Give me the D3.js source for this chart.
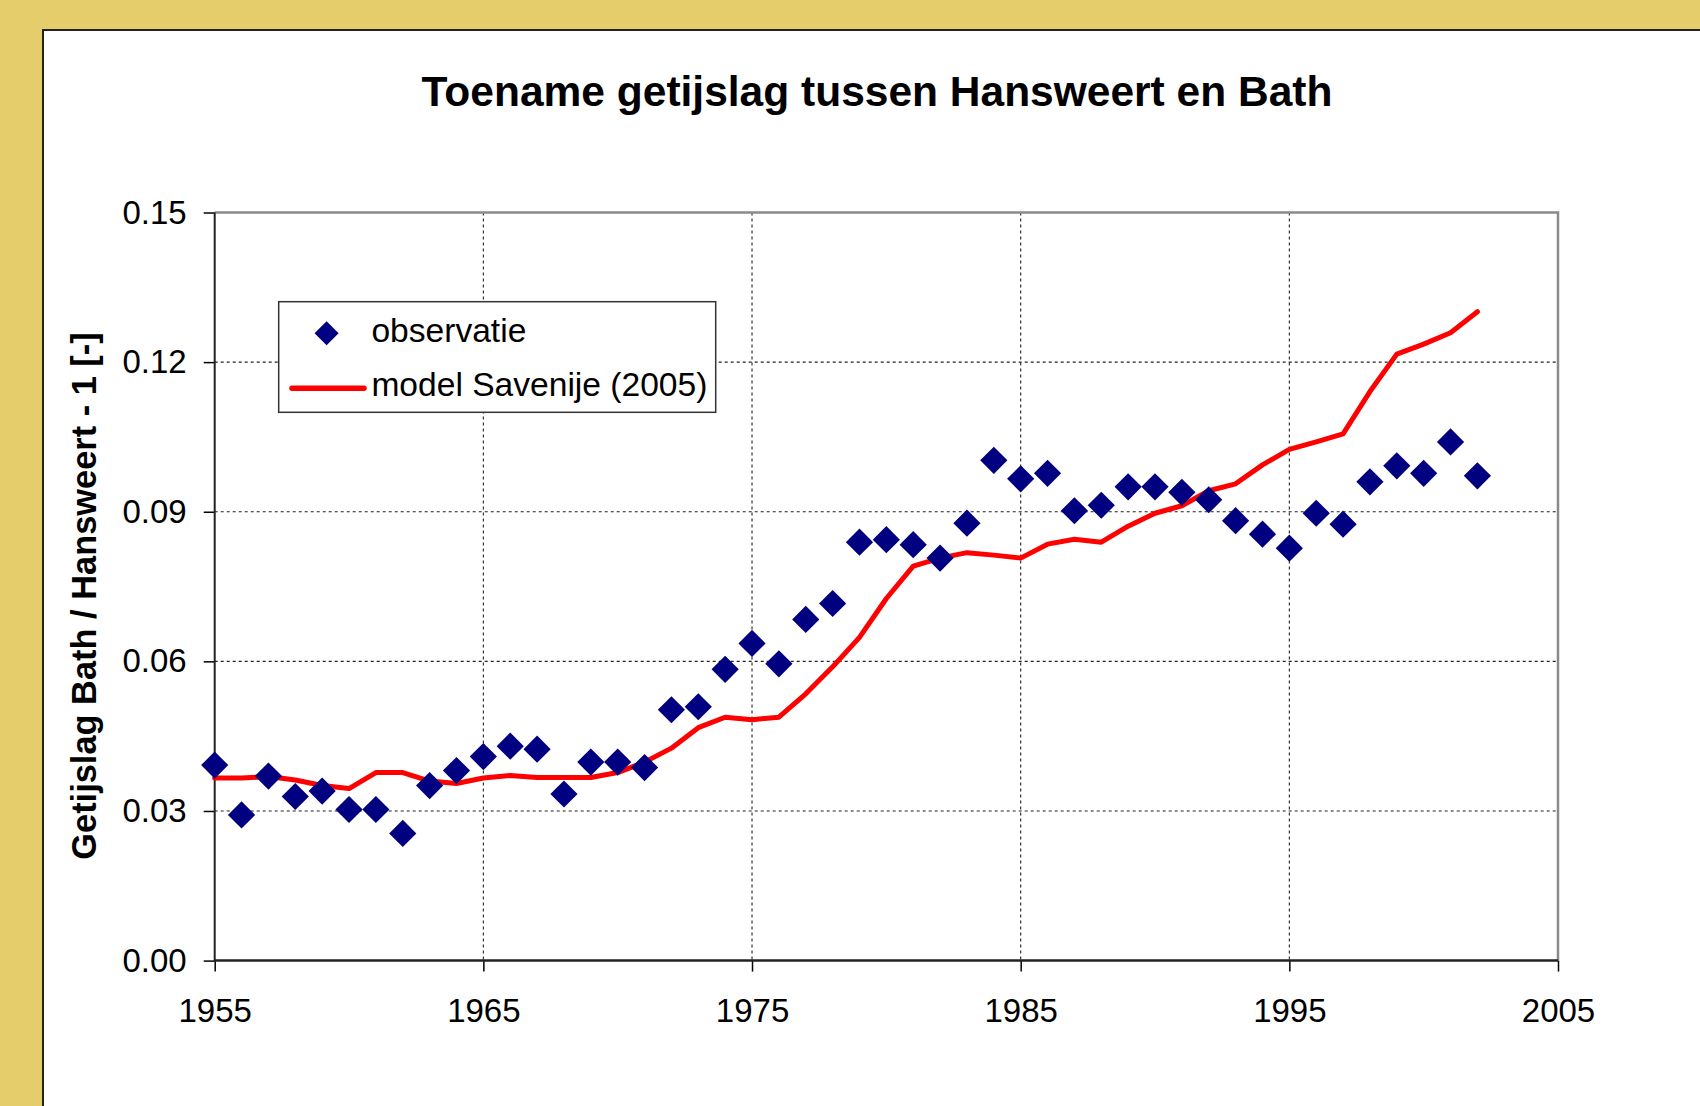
<!DOCTYPE html>
<html>
<head>
<meta charset="utf-8">
<script src="https://cdn.jsdelivr.net/npm/d3@7"></script>
<style>
  html, body { margin: 0; padding: 0; background: #e5cd6b; }
  svg { display: block; font-family: "Liberation Sans", Arial, sans-serif; }
  .tick-label { font-size: 33px; fill: #000; }
</style>
</head>
<body>
<script>
// observed tidal range increase, one value per year 1955-2002
var years = d3.range(1955, 2003);
var observatie = [
  0.0392, 0.0292, 0.0370, 0.0329, 0.0340, 0.0303, 0.0303, 0.0255, 0.0351, 0.0381,
  0.0409, 0.0430, 0.0424, 0.0334, 0.0398, 0.0398, 0.0387, 0.0503, 0.0509, 0.0584,
  0.0636, 0.0595, 0.0684, 0.0716, 0.0839, 0.0844, 0.0834, 0.0807, 0.0877, 0.1003,
  0.0966, 0.0977, 0.0902, 0.0913, 0.0950, 0.0950, 0.0939, 0.0924, 0.0882, 0.0855,
  0.0827, 0.0897, 0.0875, 0.0960, 0.0992, 0.0977, 0.1040, 0.0972
];
var model = [
  0.0366, 0.0366, 0.0369, 0.0362, 0.0351, 0.0345, 0.0377, 0.0377, 0.0360, 0.0355,
  0.0366, 0.0371, 0.0367, 0.0367, 0.0367, 0.0377, 0.0398, 0.0426, 0.0467, 0.0488,
  0.0483, 0.0488, 0.0535, 0.0589, 0.0648, 0.0726, 0.0791, 0.0807, 0.0818, 0.0813,
  0.0807, 0.0835, 0.0845, 0.0839, 0.0871, 0.0897, 0.0912, 0.0942, 0.0956, 0.0994,
  0.1025, 0.1040, 0.1056, 0.1141, 0.1216, 0.1236, 0.1259, 0.1301
];
var xTicks = [1955, 1965, 1975, 1985, 1995, 2005];
var yTicks = [0, 0.03, 0.06, 0.09, 0.12, 0.15];
var legendLabels = ["observatie", "model Savenije (2005)"];

var W = 1700, H = 1106;
var plot = {left: 214.7, right: 1558, top: 212.5, bottom: 960.6};

var svg = d3.select("body").append("svg")
    .attr("width", W)
    .attr("height", H);

// yellow background with white panel
svg.append("rect").attr("width", W).attr("height", H).attr("fill", "#e5cd6b");
svg.append("rect")
    .attr("x", 43).attr("y", 30)
    .attr("width", W).attr("height", H)
    .attr("fill", "#fff")
    .attr("stroke", "#222").attr("stroke-width", 2);

// title
svg.append("text")
    .text("Toename getijslag tussen Hansweert en Bath")
    .attr("x", 877).attr("y", 106)
    .attr("text-anchor", "middle")
    .attr("font-weight", "bold")
    .attr("font-size", 42.5)

var x = d3.scaleLinear().domain([1955, 2005]).range([plot.left, plot.right]);
var y = d3.scaleLinear().domain([0, 0.15]).range([plot.bottom, plot.top]);

// grid
var grid = svg.append("g").attr("stroke", "#222").attr("stroke-width", 1.1).attr("stroke-dasharray", "3,3");
grid.selectAll(".vg").data(xTicks.slice(1, -1)).enter().append("line")
    .attr("x1", d => x(d)).attr("x2", d => x(d))
    .attr("y1", plot.top).attr("y2", plot.bottom);
grid.selectAll(".hg").data(yTicks.slice(1, -1)).enter().append("line")
    .attr("x1", plot.left).attr("x2", plot.right)
    .attr("y1", d => y(d)).attr("y2", d => y(d));

// top + right border in grey
svg.append("path")
    .attr("d", "M" + plot.left + "," + plot.top + "H" + plot.right + "V" + plot.bottom)
    .attr("fill", "none").attr("stroke", "#8a8a8a").attr("stroke-width", 2.5);

// axes
var xAxis = d3.axisBottom(x).tickValues(xTicks).tickFormat(d3.format("d")).tickSize(11).tickPadding(21);
var xg = svg.append("g")
    .attr("transform", "translate(0," + plot.bottom + ")")
    .call(xAxis);
var yAxis = d3.axisLeft(y).tickValues(yTicks).tickFormat(d3.format(".2f")).tickSize(11).tickPadding(17);
var yg = svg.append("g")
    .attr("transform", "translate(" + plot.left + ",0)")
    .call(yAxis);
[xg, yg].forEach(function(g) {
    g.select(".domain").remove();
    g.selectAll(".tick line").attr("stroke", "#000").attr("stroke-width", 1.5);
    g.selectAll(".tick text").attr("class", "tick-label").attr("font-family", null).attr("font-size", null);
});
xg.selectAll(".tick text").attr("dy", "0.9em");
svg.append("line").attr("x1", plot.left).attr("x2", plot.left)
    .attr("y1", plot.top).attr("y2", plot.bottom + 1)
    .attr("stroke", "#222").attr("stroke-width", 2);
svg.append("line").attr("x1", plot.left).attr("x2", plot.right)
    .attr("y1", plot.bottom).attr("y2", plot.bottom)
    .attr("stroke", "#222").attr("stroke-width", 2.5);

// y axis title
svg.append("text")
    .text("Getijslag Bath / Hansweert - 1 [-]")
    .attr("transform", "translate(96,596) rotate(-90)")
    .attr("text-anchor", "middle")
    .attr("font-weight", "bold")
    .attr("font-size", 34.4);

// model line
var line = d3.line()
    .x((d, i) => x(years[i]))
    .y(d => y(d));
svg.append("path")
    .datum(model)
    .attr("fill", "none")
    .attr("stroke", "#ff0000")
    .attr("stroke-width", 5)
    .attr("stroke-linejoin", "round")
    .attr("stroke-linecap", "round")
    .attr("d", line);

// observations
var diamond = d3.symbol().type(d3.symbolSquare).size(370);
svg.append("g").selectAll("path")
    .data(observatie).enter().append("path")
    .attr("d", diamond)
    .attr("transform", (d, i) => "translate(" + x(years[i]) + "," + y(d) + ") rotate(45)")
    .attr("fill", "#000080");

// legend
var lg = svg.append("g");
lg.append("rect")
    .attr("x", 278.7).attr("y", 301.7)
    .attr("width", 437).attr("height", 110.6)
    .attr("fill", "#fff").attr("stroke", "#333").attr("stroke-width", 1.5);
lg.append("path")
    .attr("d", d3.symbol().type(d3.symbolSquare).size(290))
    .attr("transform", "translate(326.6,333.3) rotate(45)")
    .attr("fill", "#000080");
lg.append("line")
    .attr("x1", 292).attr("x2", 364)
    .attr("y1", 388.3).attr("y2", 388.3)
    .attr("stroke", "#ff0000").attr("stroke-width", 5.5).attr("stroke-linecap", "round");
lg.selectAll("text").data(legendLabels).enter().append("text")
    .text(d => d)
    .attr("x", 371.4)
    .attr("y", (d, i) => i === 0 ? 342 : 396)
    .attr("font-size", 33.6);
</script>
</body>
</html>
